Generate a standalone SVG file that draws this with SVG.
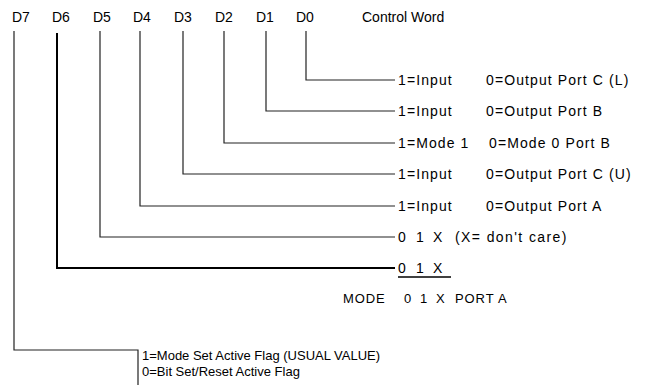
<svg xmlns="http://www.w3.org/2000/svg" width="647" height="391" viewBox="0 0 647 391">
<style>
.hd{font-family:"Liberation Sans",Arial,sans-serif;font-size:14px;fill:#000}
.cw{font-family:"Liberation Sans",Arial,sans-serif;font-size:14px;fill:#000}
.t{font-family:"Liberation Sans",Arial,sans-serif;font-size:14px;fill:#000;letter-spacing:1.1px}
.w{font-family:"Liberation Sans",Arial,sans-serif;font-size:14px;fill:#000;letter-spacing:1.4px}
.m{font-family:"Liberation Sans",Arial,sans-serif;font-size:13px;fill:#000;letter-spacing:0.9px}
.b{font-family:"Liberation Sans",Arial,sans-serif;font-size:13px;fill:#000}
.ln{fill:none;stroke:#222;stroke-width:1.2}
.thick{fill:none;stroke:#000;stroke-width:2}
</style>
<rect width="647" height="391" fill="#fff"/>
<g id="header">
<text class="hd" x="12" y="22">D7</text>
<text class="hd" x="52" y="22">D6</text>
<text class="hd" x="93" y="22">D5</text>
<text class="hd" x="133" y="22">D4</text>
<text class="hd" x="174" y="22">D3</text>
<text class="hd" x="215" y="22">D2</text>
<text class="hd" x="256" y="22">D1</text>
<text class="hd" x="296" y="22">D0</text>
<text class="cw" x="362" y="22">Control Word</text>
</g>
<g id="connectors">
<polyline class="ln" points="306,31 306,80 395,80"/>
<polyline class="ln" points="266,31 266,111 395,111"/>
<polyline class="ln" points="224,31 224,143 395,143"/>
<polyline class="ln" points="183,31 183,174 395,174"/>
<polyline class="ln" points="140,31 140,206 395,206"/>
<polyline class="ln" points="100,31 100,237 395,237"/>
<polyline class="thick" points="57,33 57,268 395,268"/>
<polyline class="ln" points="14,31 14,350 138,350 138,385"/>
</g>
<g id="d0"><text class="t" x="398" y="85">1=Input</text><text class="t" x="486" y="85">0=Output Port C (L)</text></g>
<g id="d1"><text class="t" x="398" y="116">1=Input</text><text class="t" x="486" y="116">0=Output Port B</text></g>
<g id="d2"><text class="t" x="398" y="148">1=Mode 1</text><text class="t" x="489" y="148">0=Mode 0 Port B</text></g>
<g id="d3"><text class="t" x="398" y="179">1=Input</text><text class="t" x="486" y="179">0=Output Port C (U)</text></g>
<g id="d4"><text class="t" x="398" y="211">1=Input</text><text class="t" x="486" y="211">0=Output Port A</text></g>
<g id="d5"><text class="t" x="398" y="242">0</text><text class="t" x="416" y="242">1</text><text class="t" x="433" y="242">X</text><text class="w" x="455" y="242">(X= don't care)</text></g>
<g id="d6"><text class="t" x="398" y="273">0</text><text class="t" x="416" y="273">1</text><text class="t" x="433" y="273">X</text><line x1="398" y1="277" x2="451" y2="277" stroke="#000" stroke-width="1.5"/></g>
<g id="mode"><text class="m" x="343" y="303">MODE</text><text class="m" x="404" y="303">0</text><text class="m" x="420" y="303">1</text><text class="m" x="436" y="303">X</text><text class="m" x="455" y="303">PORT A</text></g>
<g id="d7"><text class="b" x="142" y="360">1=Mode Set Active Flag (USUAL VALUE)</text><text class="b" x="142" y="376">0=Bit Set/Reset Active Flag</text></g>
</svg>
